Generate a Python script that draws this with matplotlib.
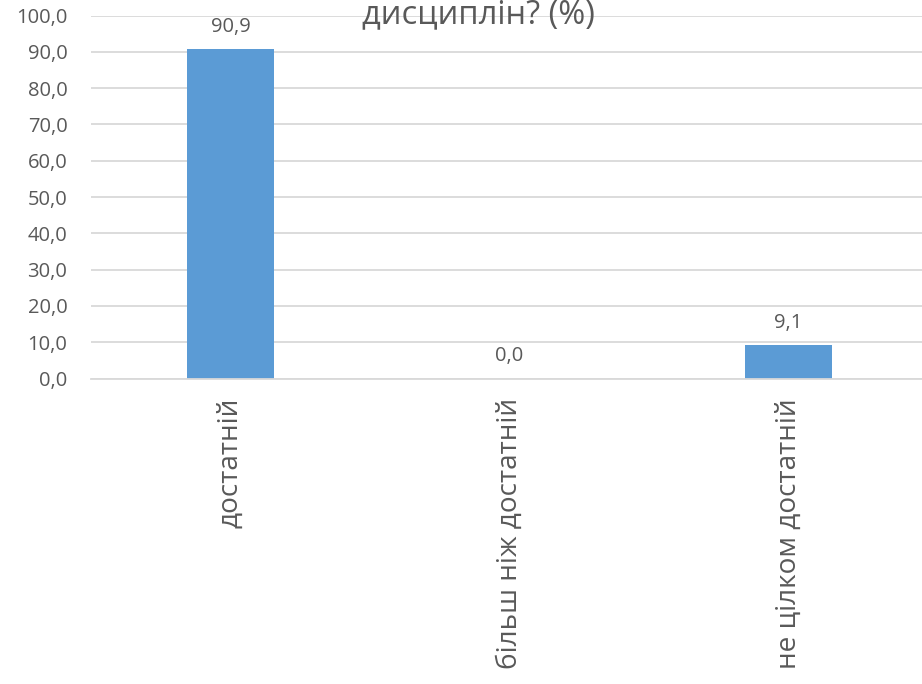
import matplotlib
matplotlib.use("Agg")
import matplotlib.pyplot as plt

# Chart data
categories = ["достатній", "більш ніж достатній", "не цілком достатній"]
values = [90.9, 0.0, 9.1]
y_ticks = [0, 10, 20, 30, 40, 50, 60, 70, 80, 90, 100]
title_line = "дисциплін? (%)"

text_color = "#595959"
bar_color = "#5B9BD5"
grid_color = "#D9D9D9"

plt.rcParams['font.family'] = ['Open Sans', 'DejaVu Sans']

fig = plt.figure(figsize=(9.22, 6.84), dpi=100)
ax = fig.add_axes([91 / 922, 305.5 / 684, 837 / 922, 363 / 684])

x = list(range(len(categories)))
ax.bar(x, values, width=0.31, color=bar_color, zorder=2)

# data labels above bars
for xi, v in zip(x, values):
    ax.annotate(f"{v:.1f}".replace(".", ","), (xi, v), xytext=(0, 12),
                textcoords="offset pixels", ha="center", va="bottom",
                fontsize=14.5, color=text_color)

ax.set_xlim(-0.5, len(categories) - 0.5)
ax.set_ylim(0, 100)
ax.set_yticks(y_ticks)
ax.set_yticklabels([f"{t:.1f}".replace(".", ",") for t in y_ticks],
                   fontsize=14.5, color=text_color)
ax.set_xticks(x)
ax.set_xticklabels(categories, rotation=90, fontsize=20.2, color=text_color,
                   va="top", ha="center")
ax.tick_params(axis="both", length=0)
ax.tick_params(axis="y", pad=17)
ax.tick_params(axis="x", pad=14)

ax.grid(axis="y", color=grid_color, linewidth=1.3, zorder=0)
for side in ["top", "right", "left"]:
    ax.spines[side].set_visible(False)
ax.spines["bottom"].set_color(grid_color)
ax.spines["bottom"].set_linewidth(1.3)

# title, only the last line of it falls inside the picture
fig.text(478 / 922, 1 - 23 / 684, title_line, ha="center", va="baseline",
         fontsize=23.5, color=text_color)

fig.savefig("out.png", dpi=100)
